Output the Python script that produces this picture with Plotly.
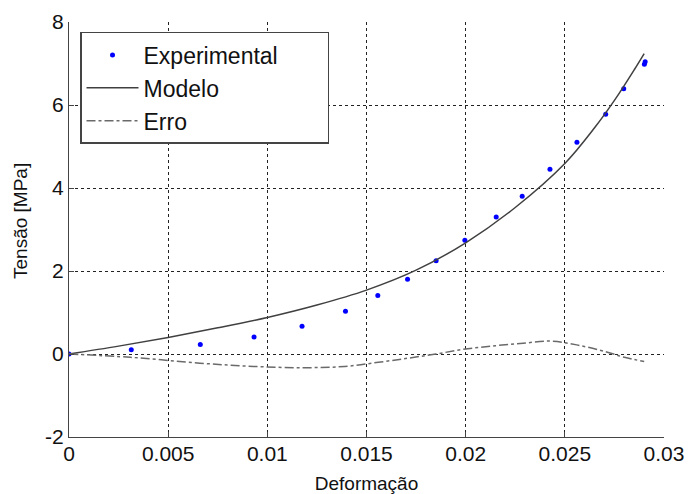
import plotly.graph_objects as go

# Experimental data
exp_x = [0.0, 0.00314, 0.00662, 0.00933, 0.01175, 0.01394, 0.01557, 0.01707, 0.01851,
         0.01996, 0.02154, 0.02285, 0.02425, 0.02561, 0.02706, 0.02797, 0.02901, 0.02905]
exp_y = [0.0, 0.10, 0.23, 0.41, 0.67, 1.03, 1.41, 1.80, 2.25,
         2.74, 3.30, 3.80, 4.45, 5.10, 5.78, 6.39, 6.98, 7.04]

# Model curve
mod_x = [0.0, 0.0025, 0.005, 0.0075, 0.01, 0.0125, 0.015, 0.0175, 0.02, 0.0225,
         0.025, 0.0265, 0.0275, 0.0285, 0.029]
mod_y = [0.0, 0.19, 0.40, 0.63, 0.88, 1.18, 1.54, 2.02, 2.68, 3.53,
         4.59, 5.45, 6.11, 6.85, 7.24]

# Error curve
err_x = [0.0, 0.0031, 0.0066, 0.0093, 0.0118, 0.0139, 0.0156, 0.0171, 0.0185,
         0.02, 0.0215, 0.0229, 0.0243, 0.0256, 0.0271, 0.028, 0.029]
err_y = [0.0, -0.08, -0.22, -0.30, -0.33, -0.30, -0.20, -0.10, 0.0,
         0.12, 0.20, 0.26, 0.31, 0.22, 0.05, -0.08, -0.18]

x_ticks = [0, 0.005, 0.01, 0.015, 0.02, 0.025, 0.03]
x_labels = ["0", "0.005", "0.01", "0.015", "0.02", "0.025", "0.03"]
y_ticks = [-2, 0, 2, 4, 6, 8]
y_labels = ["-2", "0", "2", "4", "6", "8"]
x_title = "Deformação"
y_title = "Tensão [MPa]"

FONT = "Liberation Sans, Arial"
PAD = "\u00a0" * 7

fig = go.Figure()
fig.add_trace(go.Scatter(x=exp_x, y=exp_y, mode="markers", name="Experimental" + PAD,
                         marker=dict(color="#0000ff", size=5, symbol="circle")))
fig.add_trace(go.Scatter(x=mod_x, y=mod_y, mode="lines", name="Modelo",
                         line=dict(color="#404040", width=1.5, shape="spline")))
fig.add_trace(go.Scatter(x=err_x, y=err_y, mode="lines", name="Erro",
                         line=dict(color="#6a6a6a", width=1.5, dash="dashdot", shape="spline")))

axis_common = dict(showline=True, linecolor="#444444", linewidth=1.2, mirror=False,
                   ticks="inside", ticklen=5, tickcolor="#444444", automargin=False,
                   showgrid=True, gridcolor="#222222", griddash="dot", gridwidth=1,
                   zeroline=False, tickfont=dict(family=FONT, size=21, color="#111111"))

fig.update_xaxes(range=[0, 0.03], tickvals=x_ticks, ticktext=x_labels, ticklabelstandoff=-2,
                 title=dict(text=x_title, font=dict(family=FONT, size=19, color="#111111"), standoff=12),
                 **axis_common)
fig.update_yaxes(range=[-2, 8], tickvals=y_ticks, ticktext=y_labels, **axis_common)

fig.add_annotation(text=y_title, textangle=-90, xref="paper", yref="paper",
                   x=-0.0807, y=0.5205, xanchor="center", yanchor="middle", showarrow=False,
                   font=dict(family=FONT, size=19, color="#111111"))

fig.update_layout(
    width=687, height=486,
    margin=dict(l=61, r=31, t=14, b=57),
    plot_bgcolor="white", paper_bgcolor="white",
    legend=dict(x=0.0185, y=0.976, xanchor="left", yanchor="top",
                bgcolor="white", bordercolor="#444444", borderwidth=1.5,
                font=dict(family=FONT, size=23, color="#111111"),
                tracegroupgap=0, itemwidth=52),
)

fig.write_html("out.html")
